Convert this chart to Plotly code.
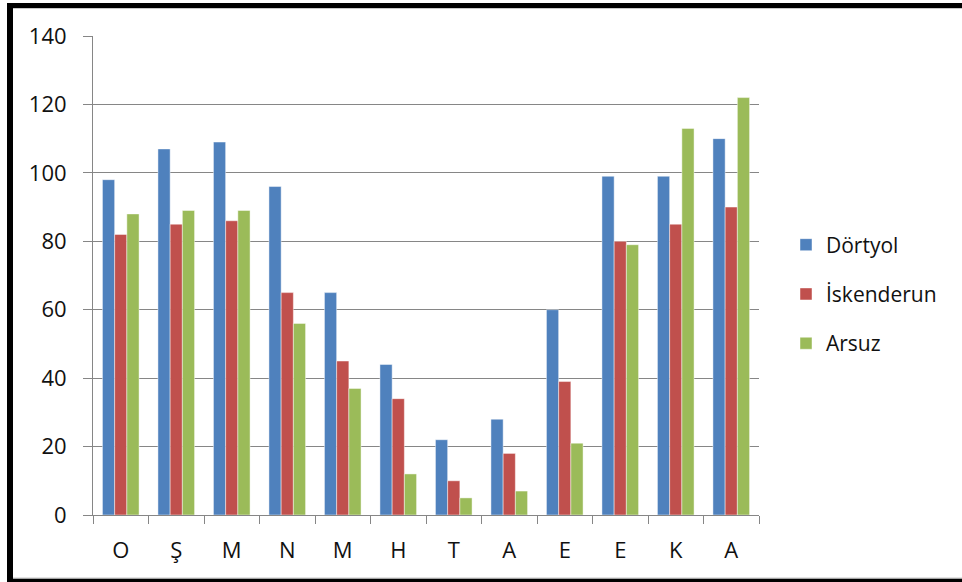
import plotly.graph_objects as go

months = ["O", "Ş", "M", "N", "M", "H", "T", "A", "E", "E", "K", "A"]
series_names = ["Dörtyol", "İskenderun", "Arsuz"]
dortyol = [98, 107, 109, 96, 65, 44, 22, 28, 60, 99, 99, 110]
iskenderun = [82, 85, 86, 65, 45, 34, 10, 18, 39, 80, 85, 90]
arsuz = [88, 89, 89, 56, 37, 12, 5, 7, 21, 79, 113, 122]
series_values = [dortyol, iskenderun, arsuz]
series_colors = ["#4F81BD", "#C0504D", "#9BBB59"]
y_ticks = [0, 20, 40, 60, 80, 100, 120, 140]

W, H = 962, 582
ML, MR, MT, MB = 93, 203, 36, 67
PW, PH = W - ML - MR, H - MT - MB

# positions for each month (repeated letters need distinct slots)
xpos = list(range(len(months)))

fig = go.Figure()
for name, vals, col in zip(series_names, series_values, series_colors):
    fig.add_trace(go.Bar(
        x=xpos, y=vals, name=name, legendgroup=name,
        marker=dict(color=col, line=dict(color="rgba(255,255,255,0.45)", width=1)),
    ))

def px_x(p):
    return (p - ML) / PW

def px_y(p):
    return (H - MB - p) / PH

grey = "#868686"
shapes = [
    # black frame (left, top, bottom)
    dict(type="rect", xref="paper", yref="paper", x0=px_x(7), x1=px_x(13),
         y0=px_y(582), y1=px_y(3), fillcolor="black", line=dict(width=0), layer="above"),
    dict(type="rect", xref="paper", yref="paper", x0=px_x(7), x1=px_x(962),
         y0=px_y(8), y1=px_y(3), fillcolor="black", line=dict(width=0), layer="above"),
    dict(type="rect", xref="paper", yref="paper", x0=px_x(7), x1=px_x(962),
         y0=px_y(582), y1=px_y(578.5), fillcolor="black", line=dict(width=0), layer="above"),
    dict(type="line", xref="paper", yref="paper", x0=px_x(13), x1=px_x(962),
         y0=px_y(8.5), y1=px_y(8.5), line=dict(color="#c8c8c8", width=1), layer="above"),
    dict(type="line", xref="paper", yref="paper", x0=px_x(13), x1=px_x(962),
         y0=px_y(578), y1=px_y(578), line=dict(color="#c8c8c8", width=1), layer="above"),
]

fig.update_layout(
    width=W, height=H,
    margin=dict(l=ML, r=MR, t=MT, b=MB),
    paper_bgcolor="white", plot_bgcolor="white",
    barmode="group", bargap=0.34, bargroupgap=0,
    font=dict(family="Open Sans, sans-serif", color="#111111"),
    showlegend=True,
    legend=dict(
        x=px_x(786), y=px_y(294), xanchor="left", yanchor="middle",
        font=dict(size=21, color="#111111"),
        tracegroupgap=19, itemwidth=30, bgcolor="rgba(0,0,0,0)",
    ),
    shapes=shapes,
)

fig.update_xaxes(
    range=[-0.5, len(months) - 0.5],
    tickmode="array", tickvals=xpos, ticktext=months,
    showline=True, linecolor=grey, linewidth=1,
    ticks="", showgrid=False, zeroline=False,
    tickfont=dict(size=22), ticklabelstandoff=16,
)
# boundary ticks between months on a hidden overlay axis
fig.update_layout(xaxis2=dict(
    overlaying="x", side="bottom", range=[-0.5, len(months) - 0.5],
    tickmode="array", tickvals=[i - 0.5 for i in range(len(months) + 1)],
    ticktext=[""] * (len(months) + 1),
    ticks="outside", ticklen=8, tickcolor=grey, tickwidth=1,
    showline=False, showgrid=False, zeroline=False,
))
fig.add_trace(go.Scatter(x=[None], y=[None], xaxis="x2", showlegend=False, hoverinfo="skip"))

fig.update_yaxes(
    range=[0, 140], tickmode="array", tickvals=y_ticks,
    showline=True, linecolor=grey, linewidth=1,
    showgrid=True, gridcolor=grey, gridwidth=1, zeroline=False,
    ticks="outside", ticklen=9, tickcolor=grey,
    tickfont=dict(size=22), ticklabelstandoff=12,
)

fig.write_html("out.html")
